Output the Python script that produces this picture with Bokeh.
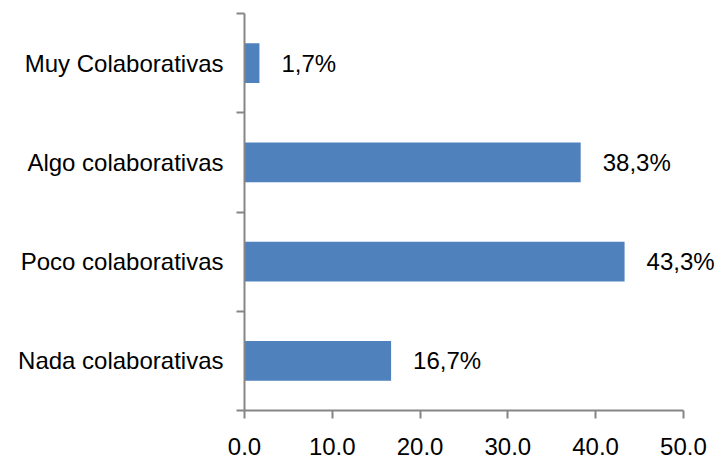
from bokeh.plotting import figure
from bokeh.models import Range1d, FixedTicker, ColumnDataSource, LabelSet
from bokeh.core.properties import value
from bokeh.embed import file_html
from bokeh.resources import INLINE

categories = ["Nada colaborativas", "Poco colaborativas", "Algo colaborativas", "Muy Colaborativas"]
values = [16.7, 43.3, 38.3, 1.7]
x_ticks = [0, 10, 20, 30, 40, 50]

pos = [i + 0.5 for i in range(len(categories))]
labels = [f"{v:.1f}%".replace(".", ",") for v in values]
src = ColumnDataSource(dict(y=pos, v=values, lab=labels))

FONT = "Liberation Sans"
AX = "#868686"

# frame spans 0..54 so that value labels are not clipped; axis line is bounded to 0..50
p = figure(width=722, height=458, output_backend="svg", toolbar_location=None,
           x_range=Range1d(0, 54), y_range=Range1d(0, len(categories)),
           min_border_left=244, min_border_right=4, min_border_top=13, min_border_bottom=48)
p.outline_line_color = None
p.xgrid.visible = False
p.ygrid.visible = False

p.hbar(y="y", right="v", left=0, height=0.4, source=src, fill_color="#4F81BD", line_color=None)
p.add_layout(LabelSet(x="v", y="y", text="lab", source=src, x_offset=22, text_align="left",
                      text_baseline="middle", text_font=value(FONT), text_font_size=value("24px"),
                      text_color=value("black")))

# x axis
xa = p.xaxis[0]
xa.bounds = (0, 50)
xa.ticker = FixedTicker(ticks=x_ticks)
xa.major_label_overrides = {t: f"{t:.1f}" for t in x_ticks}
xa.axis_line_color = AX
xa.axis_line_width = 2
xa.major_tick_line_color = AX
xa.major_tick_line_width = 2
xa.major_tick_out = 8
xa.major_tick_in = 0
xa.minor_tick_line_color = None
xa.major_label_text_font = FONT
xa.major_label_text_font_size = "24px"
xa.major_label_text_color = "black"
xa.major_label_standoff = 19

# y axis
ya = p.yaxis[0]
ya.ticker = FixedTicker(ticks=pos, minor_ticks=list(range(len(categories) + 1)))
ya.major_label_overrides = {pp: c for pp, c in zip(pos, categories)}
ya.axis_line_color = AX
ya.axis_line_width = 2
ya.major_tick_line_color = None
ya.major_tick_out = 0
ya.major_tick_in = 0
ya.minor_tick_line_color = AX
ya.minor_tick_line_width = 2
ya.minor_tick_out = 8
ya.minor_tick_in = 0
ya.major_label_text_font = FONT
ya.major_label_text_font_size = "24px"
ya.major_label_text_color = "black"
ya.major_label_standoff = 13

open("out.html", "w").write(file_html(p, INLINE))
